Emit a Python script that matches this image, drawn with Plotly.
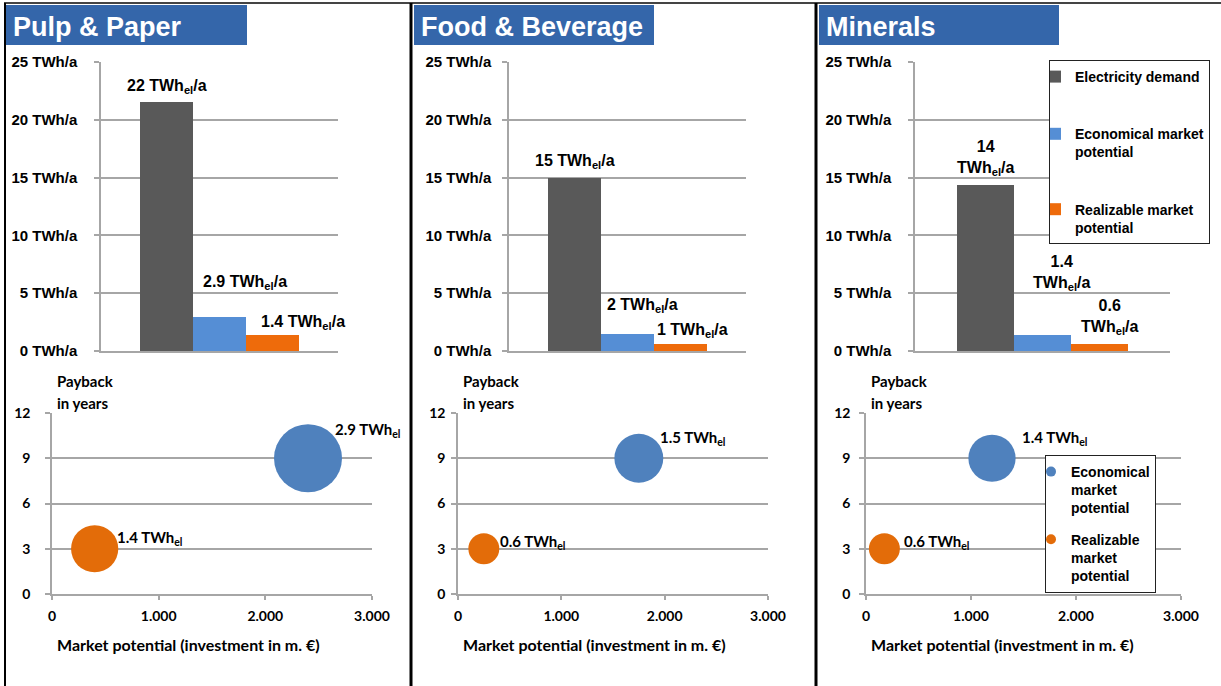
import plotly.graph_objects as go

W, H = 1221, 686

# ---------------- data ----------------
sectors = ["Pulp & Paper", "Food & Beverage", "Minerals"]
series = ["Electricity demand", "Economical market potential", "Realizable market potential"]

# TWh/a per sector
electricity_demand = [21.5, 15.0, 14.4]
economical_potential = [2.9, 1.5, 1.4]
realizable_potential = [1.4, 0.6, 0.6]

bar_labels = [
    ["22 TWh<sub>el</sub>/a", "2.9 TWh<sub>el</sub>/a", "1.4 TWh<sub>el</sub>/a"],
    ["15 TWh<sub>el</sub>/a", "2 TWh<sub>el</sub>/a", "1 TWh<sub>el</sub>/a"],
    ["14<br>TWh<sub>el</sub>/a", "1.4<br>TWh<sub>el</sub>/a", "0.6<br>TWh<sub>el</sub>/a"],
]

# bubbles: investment (m. EUR), payback (years), size (TWh_el)
econ_invest = [2400, 1750, 1200]
econ_payback = [9, 9, 9]
econ_twh = [2.9, 1.5, 1.4]
real_invest = [400, 250, 175]
real_payback = [3, 3, 3]
real_twh = [1.4, 0.6, 0.6]
bubble_labels_econ = ["2.9 TWh<sub>el</sub>", "1.5 TWh<sub>el</sub>", "1.4 TWh<sub>el</sub>"]
bubble_labels_real = ["1.4 TWh<sub>el</sub>", "0.6 TWh<sub>el</sub>", "0.6 TWh<sub>el</sub>"]

bar_yticks = [0, 5, 10, 15, 20, 25]
bar_yticktext = [f"{v} TWh/a" for v in bar_yticks]
bubble_yticks = [0, 3, 6, 9, 12]
bubble_xticks = [0, 1000, 2000, 3000]

# ---------------- styles ----------------
ARIAL = "Liberation Sans, Arial, sans-serif"
CALI = "Lato, Open Sans, sans-serif"
C_GRAY = "#595959"
C_BLUE = "#558ED5"
C_ORANGE = "#EE6B0B"
C_BBLUE = "#4F81BD"
C_BORANGE = "#E36C09"
GRID = "#A6A6A6"
TITLE_BG = "#3466AA"


def px(x):
    return x / W


def py(y):
    return 1 - y / H


fig = go.Figure()

bar_dom_x = [(101, 338), (509, 746), (915, 1170)]
bar_dom_y = (62, 351)
bub_dom_x = [(52, 372), (458, 768), (866, 1181)]
bub_dom_y = (413, 594)

values = [electricity_demand, economical_potential, realizable_potential]
colors = [C_GRAY, C_BLUE, C_ORANGE]
legend_names = ["Electricity demand", "Economical market<br>potential", "Realizable market<br>potential"]

for p in range(3):
    xa = "x" if p == 0 else f"x{p+1}"
    ya = "y" if p == 0 else f"y{p+1}"
    for s in range(3):
        fig.add_trace(go.Bar(
            x=[series[s]], y=[values[s][p]], width=1,
            marker=dict(color=colors[s], line=dict(width=0)),
            name=legend_names[s], legendgroup=f"g{s}",
            showlegend=(p == 2), legend="legend",
            xaxis=xa, yaxis=ya, hoverinfo="skip",
        ))

SIZEREF = 2 * max(econ_twh) / 68 ** 2
for p in range(3):
    xa = f"x{p+4}"
    ya = f"y{p+4}"
    fig.add_trace(go.Scatter(
        x=[econ_invest[p]], y=[econ_payback[p]], mode="markers",
        marker=dict(size=[econ_twh[p]], sizemode="area", sizeref=SIZEREF,
                    color=C_BBLUE, line=dict(width=0), opacity=1),
        showlegend=False, xaxis=xa, yaxis=ya, hoverinfo="skip"))
    fig.add_trace(go.Scatter(
        x=[real_invest[p]], y=[real_payback[p]], mode="markers",
        marker=dict(size=[real_twh[p]], sizemode="area", sizeref=SIZEREF,
                    color=C_BORANGE, line=dict(width=0), opacity=1),
        showlegend=False, xaxis=xa, yaxis=ya, hoverinfo="skip"))

# legend proxies for bubble legend
fig.add_trace(go.Scatter(x=[None], y=[None], mode="markers", xaxis="x6", yaxis="y6",
                         marker=dict(size=10, color=C_BBLUE), name="Economical<br>market<br>potential",
                         legend="legend2", legendgroup="b1"))
fig.add_trace(go.Scatter(x=[None], y=[None], mode="markers", xaxis="x6", yaxis="y6",
                         marker=dict(size=10, color=C_BORANGE), name="Realizable<br>market<br>potential",
                         legend="legend2", legendgroup="b2"))

layout = dict(
    width=W, height=H, autosize=False,
    margin=dict(l=0, r=0, t=0, b=0, pad=0, autoexpand=False),
    paper_bgcolor="white", plot_bgcolor="white",
    barmode="overlay", bargap=0,
    separators=",.",
    showlegend=True,
    legend=dict(x=px(1049), y=py(60), xanchor="left", yanchor="top",
                bordercolor="#222222", borderwidth=1, bgcolor="white",
                font=dict(family=ARIAL, size=14, color="black", weight="bold"),
                tracegroupgap=36, traceorder="grouped", valign="top",
                indentation=-15, itemwidth=30),
    legend2=dict(x=px(1045), y=py(455), xanchor="left", yanchor="top",
                 bordercolor="#222222", borderwidth=1, bgcolor="white",
                 font=dict(family=ARIAL, size=14, color="black", weight="bold"),
                 tracegroupgap=10, traceorder="grouped", valign="top",
                 indentation=-15, itemwidth=30),
)

for p in range(3):
    i = p + 1
    xk = "xaxis" if p == 0 else f"xaxis{i}"
    yk = "yaxis" if p == 0 else f"yaxis{i}"
    layout[xk] = dict(
        domain=[px(bar_dom_x[p][0]), px(bar_dom_x[p][1])],
        anchor="y" if p == 0 else f"y{i}",
        type="category", categoryorder="array", categoryarray=series,
        range=[-1.24, 3.24], showticklabels=False, ticks="",
        showline=True, linecolor=GRID, linewidth=1.5, showgrid=False,
        automargin=False, fixedrange=True)
    layout[yk] = dict(
        domain=[py(bar_dom_y[1]), py(bar_dom_y[0])],
        anchor="x" if p == 0 else f"x{i}",
        range=[0, 25], tickmode="array", tickvals=bar_yticks, ticktext=bar_yticktext,
        showgrid=True, gridcolor=GRID, gridwidth=1.5,
        showline=True, linecolor=GRID, linewidth=1.5,
        ticks="outside", ticklen=5, tickcolor=GRID, tickwidth=1.5,
        ticklabelstandoff=[14, 8, 14][p],
        tickfont=dict(family=ARIAL, size=15, color="black", weight="bold"),
        zeroline=False, automargin=False, fixedrange=True)

    j = p + 4
    layout[f"xaxis{j}"] = dict(
        domain=[px(bub_dom_x[p][0]), px(bub_dom_x[p][1])],
        anchor=f"y{j}", range=[0, 3000], tickvals=bubble_xticks, tickformat=",d",
        showgrid=False, showline=True, linecolor=GRID, linewidth=1.5,
        ticks="outside", ticklen=4, tickcolor=GRID, tickwidth=1.5,
        tickfont=dict(family=CALI, size=14, color="black", weight="bold"),
        ticklabelstandoff=4, zeroline=False, automargin=False, fixedrange=True)
    layout[f"yaxis{j}"] = dict(
        domain=[py(bub_dom_y[1]), py(bub_dom_y[0])],
        anchor=f"x{j}", range=[0, 12], tickvals=bubble_yticks,
        showgrid=True, gridcolor=GRID, gridwidth=1.5,
        showline=True, linecolor=GRID, linewidth=1.5,
        ticks="outside", ticklen=5, tickcolor=GRID, tickwidth=1.5,
        tickfont=dict(family=CALI, size=14, color="black", weight="bold"),
        ticklabelstandoff=[12, 3, 6][p], zeroline=False, automargin=False, fixedrange=True)

fig.update_layout(**layout)

shapes = []
annotations = []

# panel frame lines
shapes.append(dict(type="line", xref="paper", yref="paper", x0=px(4), x1=1, y0=py(3), y1=py(3),
                   line=dict(color="#444444", width=2)))
for xl in [5, 411, 816]:
    shapes.append(dict(type="line", xref="paper", yref="paper", x0=px(xl), x1=px(xl), y0=0, y1=py(3),
                       line=dict(color="black", width=3 if xl > 5 else 2)))

# title boxes
title_boxes = [(6, 247), (414, 654), (819, 1059)]
for p in range(3):
    x0, x1 = title_boxes[p]
    shapes.append(dict(type="rect", xref="paper", yref="paper", x0=px(x0), x1=px(x1),
                       y0=py(45), y1=py(5), fillcolor=TITLE_BG, line=dict(width=0), layer="below"))
    annotations.append(dict(text=sectors[p], xref="paper", yref="paper", x=px(x0 + 5), y=py(27),
                            xanchor="left", yanchor="middle", showarrow=False,
                            font=dict(family=ARIAL, size=27, color="white", weight="bold")))

# bar value labels (positions in category units / TWh)
bar_label_pos = [
    [(0, 22.9), (1.48, 5.9), (2.58, 2.5)],
    [(0, 16.35), (1.29, 3.9), (2.22, 1.8)],
    [(0, 16.7), (1.34, 6.75), (2.17, 2.94)],
]
for p in range(3):
    xr = "x" if p == 0 else f"x{p+1}"
    yr = "y" if p == 0 else f"y{p+1}"
    for s in range(3):
        lx, ly = bar_label_pos[p][s]
        annotations.append(dict(text=bar_labels[p][s], xref=xr, yref=yr, x=lx, y=ly,
                                xanchor="center", yanchor="middle", showarrow=False,
                                font=dict(family=ARIAL, size=16, color="black", weight="bold")))

# bubble labels, shifted from the bubble centres (pixels)
econ_shift = [(25, 28), (19, 20), (28, 20)]
real_shift = [(20, 11), (14, 7), (18, 7)]
for p in range(3):
    xr = f"x{p+4}"
    yr = f"y{p+4}"
    annotations.append(dict(text=bubble_labels_econ[p], xref=xr, yref=yr, x=econ_invest[p], y=econ_payback[p],
                            xshift=econ_shift[p][0], yshift=econ_shift[p][1],
                            xanchor="left", yanchor="middle", showarrow=False,
                            font=dict(family=CALI, size=15, color="black", weight="bold")))
    annotations.append(dict(text=bubble_labels_real[p], xref=xr, yref=yr, x=real_invest[p], y=real_payback[p],
                            xshift=real_shift[p][0], yshift=real_shift[p][1],
                            xanchor="left", yanchor="middle", showarrow=False,
                            font=dict(family=CALI, size=15, color="black", weight="bold")))
    ax0 = bub_dom_x[p][0]
    annotations.append(dict(text="Payback", xref="paper", yref="paper", x=px(ax0 + 3), y=py(381),
                            xanchor="left", yanchor="middle", showarrow=False,
                            font=dict(family=CALI, size=15, color="black", weight="bold")))
    annotations.append(dict(text="in years", xref="paper", yref="paper", x=px(ax0 + 3), y=py(403),
                            xanchor="left", yanchor="middle", showarrow=False,
                            font=dict(family=CALI, size=15, color="black", weight="bold")))
    annotations.append(dict(text="Market potential (investment in m. €)", xref="paper", yref="paper",
                            x=px(ax0 + 3), y=py(644), xanchor="left", yanchor="middle", showarrow=False,
                            font=dict(family=CALI, size=16, color="black", weight="bold")))

fig.update_layout(shapes=shapes, annotations=annotations)

fig.write_html("out.html", config={"displayModeBar": False},
               post_script="document.body.style.margin='0px';document.body.style.overflow='hidden';")
